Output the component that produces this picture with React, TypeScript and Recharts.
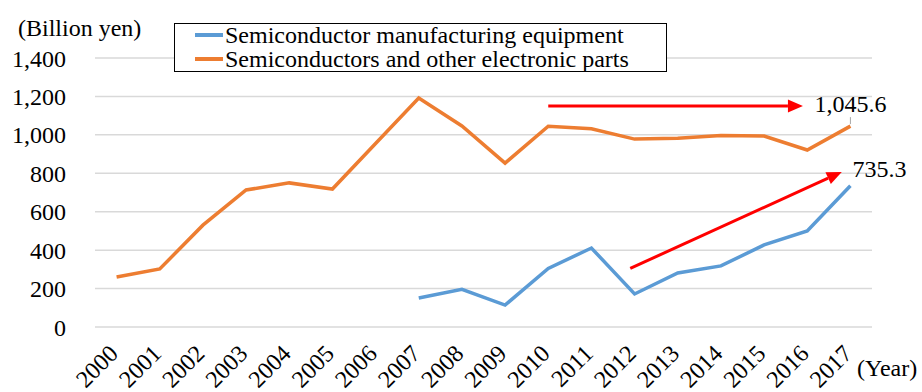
import {
  CartesianGrid,
  Customized,
  LabelList,
  Legend,
  Line,
  LineChart,
  ReferenceLine,
  XAxis,
  YAxis,
} from "recharts";

const years: number[] = [
  2000, 2001, 2002, 2003, 2004, 2005, 2006, 2007, 2008, 2009, 2010, 2011, 2012,
  2013, 2014, 2015, 2016, 2017,
];

// Semiconductors and other electronic parts (billion yen)
const partsValues: number[] = [
  260, 302, 530, 713, 750, 718, 955, 1192, 1046, 853, 1045, 1032, 978, 982, 997,
  994, 921, 1045.6,
];

// Semiconductor manufacturing equipment (billion yen), from 2007
const equipmentValues: (number | null)[] = [
  null, null, null, null, null, null, null, 151, 196, 114, 305, 411, 172, 281,
  318, 427, 500, 735.3,
];

const yTicks: number[] = [0, 200, 400, 600, 800, 1000, 1200, 1400];

const seriesNames = {
  equipment: "Semiconductor manufacturing equipment",
  parts: "Semiconductors and other electronic parts",
};

// trend arrows: [start, end] in data units
const flatArrow = [
  { x: 2010, y: 1150 },
  { x: 2015.9, y: 1150 },
];
const riseArrow = [
  { x: 2011.9, y: 305 },
  { x: 2016.8, y: 807 },
];

const data = years.map((year, i) => ({
  year,
  parts: partsValues[i],
  equipment: equipmentValues[i],
}));

const FONT = "'Liberation Serif', 'Times New Roman', serif";
const BLUE = "#5B9BD5";
const ORANGE = "#ED7D31";
const RED = "#FF0000";

const fmt = (v: number) =>
  v.toLocaleString("en-US", { minimumFractionDigits: 1, maximumFractionDigits: 1 });

function XTick(props: any) {
  const { x, y, payload } = props;
  const tx = x + 3;
  const ty = y + 20;
  return (
    <text
      x={tx}
      y={ty}
      transform={`rotate(-45 ${tx} ${ty})`}
      textAnchor="end"
      style={{ fontFamily: FONT }}
      fontSize={24}
      fill="#000"
    >
      {payload.value}
    </text>
  );
}

function Arrow(props: any) {
  const { x1, y1, x2, y2 } = props;
  if ([x1, y1, x2, y2].some((v) => typeof v !== "number")) return null;
  const ang = Math.atan2(y2 - y1, x2 - x1);
  const len = 15;
  const half = 6.5;
  const bx = x2 - len * Math.cos(ang);
  const by = y2 - len * Math.sin(ang);
  const nx = -Math.sin(ang);
  const ny = Math.cos(ang);
  const pts = `${x2},${y2} ${bx + nx * half},${by + ny * half} ${bx - nx * half},${by - ny * half}`;
  return (
    <g>
      <line x1={x1} y1={y1} x2={bx} y2={by} stroke={RED} strokeWidth={3} />
      <polygon points={pts} fill={RED} />
    </g>
  );
}

function LastLabel(props: any) {
  const { x, y, value, index, dxText, dyText, leader } = props;
  if (index !== years.length - 1 || value == null) return null;
  return (
    <g>
      {leader && (
        <line x1={x} y1={y - 2} x2={x} y2={y - 9} stroke="#a6a6a6" strokeWidth={1} />
      )}
      <text
        x={x + dxText}
        y={y + dyText}
        textAnchor="start"
        style={{ fontFamily: FONT }}
        fontSize={24}
        fill="#000"
      >
        {fmt(value)}
      </text>
    </g>
  );
}

function LegendBox() {
  const rows = [
    { name: seriesNames.equipment, color: BLUE },
    { name: seriesNames.parts, color: ORANGE },
  ];
  return (
    <div
      style={{
        position: "relative",
        width: 493,
        height: 49,
        border: "1.5px solid #000",
        background: "#fff",
        boxSizing: "border-box",
      }}
    >
      {rows.map((r, i) => (
        <div
          key={r.name}
          style={{
            position: "absolute",
            left: 20,
            top: -1 + i * 24,
            display: "flex",
            alignItems: "center",
            height: 24,
            fontFamily: FONT,
            fontSize: 24,
            lineHeight: "24px",
            color: "#000",
            whiteSpace: "nowrap",
          }}
        >
          <span
            style={{
              display: "inline-block",
              width: 28,
              height: 4,
              background: r.color,
              marginRight: 2,
            }}
          />
          {r.name}
        </div>
      ))}
    </div>
  );
}

function AxisTitles() {
  return (
    <g style={{ fontFamily: FONT }} fontSize={24} fill="#000">
      <text x={18} y={36}>
        (Billion yen)
      </text>
      <text x={857} y={376}>
        (Year)
      </text>
    </g>
  );
}

export default function App() {
  return (
    <div style={{ position: "absolute", left: 0, top: 0, background: "#fff" }}>
      <LineChart
        width={922}
        height={392}
        data={data}
        margin={{ top: 58, right: 50, left: 0, bottom: 0 }}
      >
        <CartesianGrid vertical={false} stroke="#d9d9d9" strokeWidth={1.5} />
        <XAxis
          dataKey="year"
          type="number"
          domain={[1999.5, 2017.5]}
          ticks={years}
          interval={0}
          axisLine={false}
          tickLine={false}
          height={65}
          tick={<XTick />}
        />
        <YAxis
          domain={[0, 1400]}
          ticks={yTicks}
          width={95}
          axisLine={false}
          tickLine={false}
          tickMargin={23}
          tickFormatter={(v: number) => v.toLocaleString("en-US")}
          tick={{ style: { fontFamily: FONT }, fontSize: 24, fill: "#000" }}
        />
        <Legend
          layout="vertical"
          align="center"
          verticalAlign="middle"
          wrapperStyle={{ left: 174, top: 23, width: 493 }}
          content={() => <LegendBox />}
        />
        <Line
          dataKey="parts"
          name={seriesNames.parts}
          stroke={ORANGE}
          strokeWidth={3.5}
          dot={false}
          isAnimationActive={false}
        >
          <LabelList
            dataKey="parts"
            content={(p: any) => (
              <LastLabel {...p} dxText={-36} dyText={-14} leader />
            )}
          />
        </Line>
        <Line
          dataKey="equipment"
          name={seriesNames.equipment}
          stroke={BLUE}
          strokeWidth={3.5}
          dot={false}
          connectNulls={false}
          isAnimationActive={false}
        >
          <LabelList
            dataKey="equipment"
            content={(p: any) => <LastLabel {...p} dxText={2} dyText={-9} />}
          />
        </Line>
        <ReferenceLine segment={flatArrow} shape={<Arrow />} ifOverflow="visible" />
        <ReferenceLine segment={riseArrow} shape={<Arrow />} ifOverflow="visible" />
        <Customized component={AxisTitles} />
      </LineChart>
    </div>
  );
}
